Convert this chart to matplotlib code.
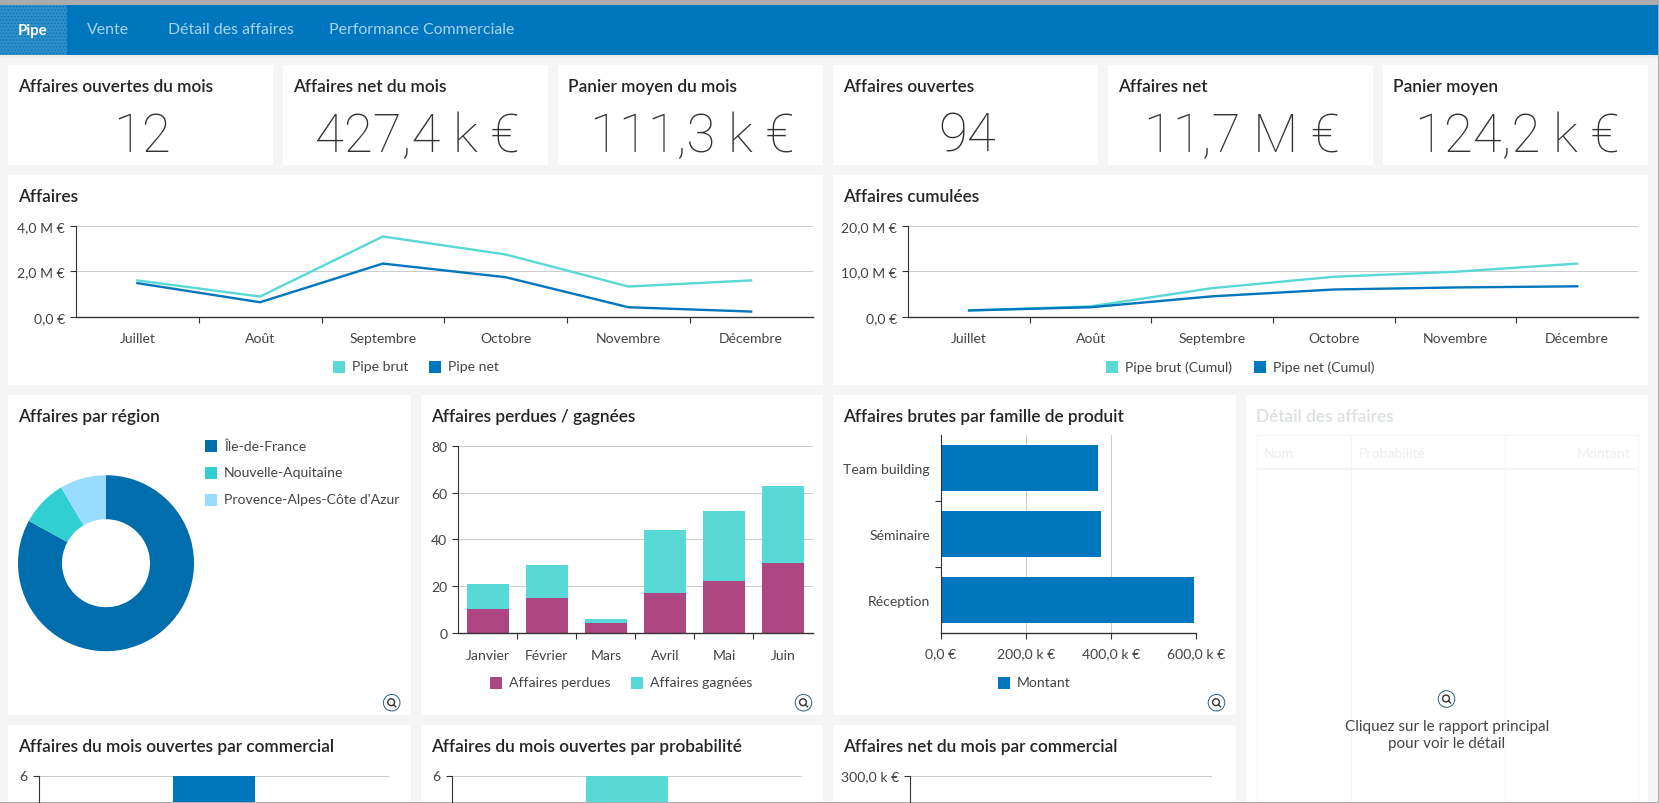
import matplotlib
matplotlib.use('Agg')
import matplotlib.pyplot as plt
from matplotlib.patches import Rectangle, Circle

W, H = 1659, 804
BLUE = '#0076BE'
TEAL = '#58D9D5'
PURPLE = '#AD4682'
GRID = '#CCCCCC'
DARK = '#333333'
TICK = '#444444'
FS = 10.1

plt.rcParams['font.family'] = ['Lato', 'DejaVu Sans']
plt.rcParams['hatch.linewidth'] = 0.6

# data
tabs = ['Pipe', 'Vente', 'Détail des affaires', 'Performance Commerciale']
kpi_titles = ['Affaires ouvertes du mois', 'Affaires net du mois', 'Panier moyen du mois',
              'Affaires ouvertes', 'Affaires net', 'Panier moyen']
kpi_values = ['12', '427,4 k €', '111,3 k €', '94', '11,7 M €', '124,2 k €']

months = ['Juillet', 'Août', 'Septembre', 'Octobre', 'Novembre', 'Décembre']
pipe_brut = [1.60, 0.89, 3.53, 2.74, 1.33, 1.60]
pipe_net = [1.48, 0.64, 2.34, 1.74, 0.42, 0.23]
cumul_brut = [1.4, 2.3, 6.3, 8.8, 9.9, 11.7]
cumul_net = [1.4, 2.1, 4.5, 6.0, 6.45, 6.7]

regions = ['Île-de-France', 'Nouvelle-Aquitaine', "Provence-Alpes-Côte d'Azur"]
region_counts = [78, 8, 8]
region_colors = ['#006DAD', '#2FCFD2', '#99DCFF']

months_s1 = ['Janvier', 'Février', 'Mars', 'Avril', 'Mai', 'Juin']
perdues = [10, 15, 4, 17, 22, 30]
gagnees = [11, 14, 2, 27, 30, 33]

familles = ['Réception', 'Séminaire', 'Team building']
montants = [594, 377, 368]


def px_axes(x0, y0, x1, y1):
    return fig.add_axes([x0 / W, 1 - y1 / H, (x1 - x0) / W, (y1 - y0) / H], facecolor='none')


def card(x0, y0, x1, y1):
    bg.add_patch(Rectangle((x0, y0), x1 - x0, y1 - y0, fc='white', ec='none'))


def title(x, y, s, color='#252423'):
    bg.text(x, y, s, fontsize=12.4, fontweight='semibold', color=color, va='center')


def swatch(x, y, color, s):
    bg.add_patch(Rectangle((x, y - 6), 12, 12, fc=color, ec='none'))
    bg.text(x + 19, y, s, fontsize=FS, color=TICK, va='center')


def loupe(x, y):
    bg.add_patch(Circle((x, y), 8.3, fc='white', ec='#2C5F7E', lw=0.7))
    bg.add_patch(Circle((x - 0.5, y - 0.5), 3.4, fc='none', ec='#333333', lw=1.0))
    bg.plot([x + 2, x + 4], [y + 2, y + 4], color='#333333', lw=1.0)


def style(ax, ticklen=6):
    for s in ['top', 'right']:
        ax.spines[s].set_visible(False)
    ax.spines['left'].set_color(DARK)
    ax.spines['left'].set_linewidth(0.8)
    ax.spines['bottom'].set_color(DARK)
    ax.spines['bottom'].set_linewidth(1.0)
    ax.tick_params(length=ticklen / 1.39, width=0.8, color=DARK, labelsize=FS, labelcolor=TICK, pad=3.6)
    ax.set_axisbelow(True)


def band_xaxis(ax, labels, pad=10.8):
    # ticks sit between the categories, labels in the middle of them
    n = len(labels)
    ax.set_xlim(-0.5, n - 0.5)
    ax.set_xticks([i + 0.5 for i in range(n - 1)])
    ax.set_xticklabels([])
    ax.set_xticks(range(n), labels, minor=True)
    ax.tick_params(axis='x', which='minor', length=0, labelsize=FS, labelcolor=TICK, pad=pad)


fig = plt.figure(figsize=(W / 100, H / 100), dpi=100, facecolor='#F5F5F5')
bg = fig.add_axes([0, 0, 1, 1])
bg.set_xlim(0, W)
bg.set_ylim(H, 0)
bg.axis('off')

# header
bg.add_patch(Rectangle((0, 0), W, 6, fc='#ABABAB', ec='none'))
bg.add_patch(Rectangle((0, 6), W, 50, fc=BLUE, ec='none'))
bg.add_patch(Rectangle((0, 56), W, 3, fc='#EDEDED', ec='none'))
bg.add_patch(Rectangle((0, 6), 67, 50, fc='#2F8DC8', ec=BLUE, lw=0, hatch='.....'))
for x, s in zip([18, 87, 168, 329], tabs):
    bg.text(x, 30.5, s, fontsize=11.4 if s != 'Pipe' else 10.8, color='white' if s == 'Pipe' else '#A9D3EE',
            fontweight='bold' if s == 'Pipe' else 'normal', va='center')

# kpi cards
kpi_x = [8, 283, 558, 833, 1108, 1383]
for x, t, v in zip(kpi_x, kpi_titles, kpi_values):
    card(x, 66, x + 265, 166)
    title(x + 10, 87, t)
    bg.text(x + 134, 137, v, fontsize=38, family='Roboto', fontweight='light', color=DARK,
            ha='center', va='center')

# line charts
card(8, 176, 823, 386)
card(833, 176, 1648, 386)
title(18, 197, 'Affaires')
title(843, 197, 'Affaires cumulées')

ax = px_axes(76, 226.8, 812.5, 317.8)
ax.plot(range(6), pipe_brut, color=TEAL, lw=1.7)
ax.plot(range(6), pipe_net, color=BLUE, lw=1.7)
ax.set_ylim(0, 4)
ax.set_yticks([0, 2, 4], ['0,0 €', '2,0 M €', '4,0 M €'])
band_xaxis(ax, months)
ax.grid(axis='y', color=GRID, lw=0.72)
style(ax)
swatch(333, 367.5, TEAL, 'Pipe brut')
swatch(429, 367.5, BLUE, 'Pipe net')

ax = px_axes(908.2, 226.8, 1638, 317.8)
ax.plot(range(6), cumul_brut, color=TEAL, lw=1.7)
ax.plot(range(6), cumul_net, color=BLUE, lw=1.7)
ax.set_ylim(0, 20)
ax.set_yticks([0, 10, 20], ['0,0 €', '10,0 M €', '20,0 M €'])
band_xaxis(ax, months)
ax.grid(axis='y', color=GRID, lw=0.72)
style(ax)
swatch(1106, 367.5, TEAL, 'Pipe brut (Cumul)')
swatch(1254, 367.5, BLUE, 'Pipe net (Cumul)')

# third row
card(8, 396, 411, 716)
card(421, 396, 823, 716)
card(833, 396, 1236, 716)
card(1246, 396, 1648, 804)
title(18, 417, 'Affaires par région')
title(431, 417, 'Affaires perdues / gagnées')
title(843, 417, 'Affaires brutes par famille de produit')
title(1256, 417, 'Détail des affaires', color='#DDE1E1')

ax = px_axes(18, 476.2, 194, 652.2)
ax.pie(region_counts, colors=region_colors, startangle=90, counterclock=False, radius=1.0,
       wedgeprops={'width': 0.5})
ax.set_xlim(-1, 1)
ax.set_ylim(-1, 1)
for y, c, r in zip([446.5, 473.5, 500.5], region_colors, regions):
    swatch(205, y, c, r)

ax = px_axes(458.4, 446.8, 812.5, 633.8)
ax.bar(range(6), perdues, 0.7, color=PURPLE)
ax.bar(range(6), gagnees, 0.7, bottom=perdues, color=TEAL)
ax.set_ylim(0, 80)
ax.set_yticks([0, 20, 40, 60, 80])
band_xaxis(ax, months_s1, pad=11.5)
ax.grid(axis='y', color=GRID, lw=0.72)
style(ax)
swatch(490, 683.5, PURPLE, 'Affaires perdues')
swatch(631, 683.5, TEAL, 'Affaires gagnées')

ax = px_axes(941, 436, 1196.4, 633.8)
ax.barh(range(3), montants, 0.7, color=BLUE)
ax.set_xlim(0, 600)
ax.set_ylim(-0.5, 2.5)
ax.set_xticks([0, 200, 400, 600], ['0,0 €', '200,0 k €', '400,0 k €', '600,0 k €'])
ax.set_yticks([0.5, 1.5])
ax.set_yticklabels([])
ax.set_yticks(range(3), familles, minor=True)
ax.grid(axis='x', color=GRID, lw=0.72)
style(ax)
ax.tick_params(axis='x', pad=6)
ax.tick_params(axis='y', which='minor', length=0, labelsize=FS, labelcolor=TICK, pad=8)
swatch(998, 683.5, BLUE, 'Montant')

loupe(391.7, 703.7)
loupe(803.5, 703.7)
loupe(1216.5, 703.7)

# detail table, empty and faded out
FAINT = '#F4F5F5'
bg.add_patch(Rectangle((1256.6, 436), 381.4, 380, fc='none', ec=FAINT, lw=0.8))
bg.plot([1256.6, 1638], [470, 470], color=FAINT, lw=1.6)
for x in [1350.8, 1504.6]:
    bg.plot([x, x], [436, 804], color=FAINT, lw=0.8)
bg.text(1263.5, 454, 'Nom', fontsize=FS, color='#EDEFEF', va='center')
bg.text(1358.7, 454, 'Probabilité', fontsize=FS, color='#EDEFEF', va='center')
bg.text(1630, 454, 'Montant', fontsize=FS, color='#EDEFEF', va='center', ha='right')
loupe(1446.5, 700)
bg.text(1447, 726.7, 'Cliquez sur le rapport principal', fontsize=11, color=TICK, ha='center', va='center')
bg.text(1447, 744, 'pour voir le détail', fontsize=11, color=TICK, ha='center', va='center')

# bottom row, cut by the screenshot
card(8, 726, 411, 804)
card(421, 726, 823, 804)
card(833, 726, 1236, 804)
title(18, 747, 'Affaires du mois ouvertes par commercial')
title(431, 747, 'Affaires du mois ouvertes par probabilité')
title(843, 747, 'Affaires net du mois par commercial')

ax = px_axes(38.6, 776.5, 389, 803)
ax.bar([1], [6], 0.7, color=BLUE)
ax.set_xlim(-0.5, 2.5)
ax.set_ylim(5.14, 6)
ax.set_yticks([6], ['6'])
ax.set_xticks([])
ax.grid(axis='y', color=GRID, lw=0.72)
style(ax)
ax.spines['bottom'].set_visible(False)

ax = px_axes(451.5, 776.5, 802, 803)
ax.bar([1], [6], 0.7, color=TEAL)
ax.set_xlim(-0.5, 2.5)
ax.set_ylim(5.14, 6)
ax.set_yticks([6], ['6'])
ax.set_xticks([])
ax.grid(axis='y', color=GRID, lw=0.72)
style(ax)
ax.spines['bottom'].set_visible(False)

ax = px_axes(910.4, 776.5, 1212, 803)
ax.set_ylim(257, 300)
ax.set_yticks([300], ['300,0 k €'])
ax.set_xticks([])
ax.grid(axis='y', color=GRID, lw=0.72)
style(ax)
ax.spines['bottom'].set_visible(False)

# edges of the window
bg.add_patch(Rectangle((0, 802.7), W, 1.3, fc='#ABABAB', ec='none', zorder=5))
bg.add_patch(Rectangle((1658, 0), 1, H, fc='#ABABAB', ec='none', zorder=5))

fig.savefig('out.png', dpi=100, facecolor=fig.get_facecolor())
